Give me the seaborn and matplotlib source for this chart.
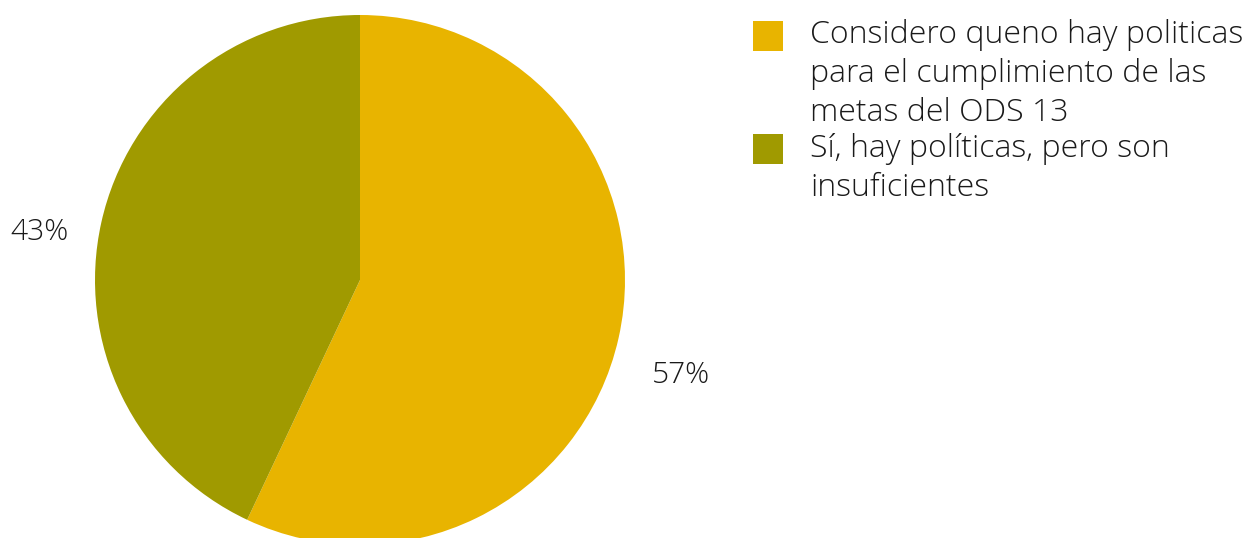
import matplotlib
matplotlib.use("Agg")
import matplotlib.pyplot as plt
import matplotlib.patches as mpatches
import seaborn as sns

# Data
labels = ["Considero queno hay politicas\npara el cumplimiento de las\nmetas del ODS 13",
          "Sí, hay políticas, pero son\ninsuficientes"]
values = [57, 43]
colors = ["#E8B400", "#A09A00"]

sns.set_theme(style="white")
plt.rcParams['font.family'] = ['Open Sans', 'DejaVu Sans']
plt.rcParams['font.weight'] = 'light'
text_color = "#1a1a1a"

W, H = 1248, 538
fig = plt.figure(figsize=(W / 100, H / 100), dpi=100)
# pie axes: centre (360, 280) px, radius 265 px
ax = fig.add_axes([(360 - 265) / W, (H - 280 - 265) / H, 530 / W, 530 / H])

wedges, texts, autotexts = ax.pie(values, colors=colors, startangle=90, counterclock=False,
                                  autopct='%1.0f%%', pctdistance=1.24, radius=1,
                                  wedgeprops=dict(linewidth=0),
                                  textprops=dict(fontsize=21.5, color=text_color, fontweight='light'))
# labels sit a little lower than the wedge midline
for t in autotexts:
    x, y = t.get_position()
    t.set_position((x, y - 0.09))
ax.set_xlim(-1, 1)
ax.set_ylim(-1, 1)
ax.set_aspect('equal')
ax.axis('off')

# legend: square aligned with first line of each (multi-line) label
line_h = 37.5
y_top = 21
for w, lab in zip(wedges, labels):
    n = lab.count("\n") + 1
    fig.patches.append(mpatches.Rectangle((753 / W, 1 - (y_top + 30) / H), 30 / W, 30 / H,
                                          transform=fig.transFigure, facecolor=w.get_facecolor(),
                                          edgecolor='none'))
    # va='baseline' anchors the last line of a multi-line text
    fig.text(810 / W, 1 - (y_top + 25 + (n - 1) * line_h) / H, lab, fontsize=23,
             color=text_color, fontweight='light', va='baseline', ha='left', linespacing=1.29)
    y_top += line_h * n

fig.savefig("out.png", dpi=100)
